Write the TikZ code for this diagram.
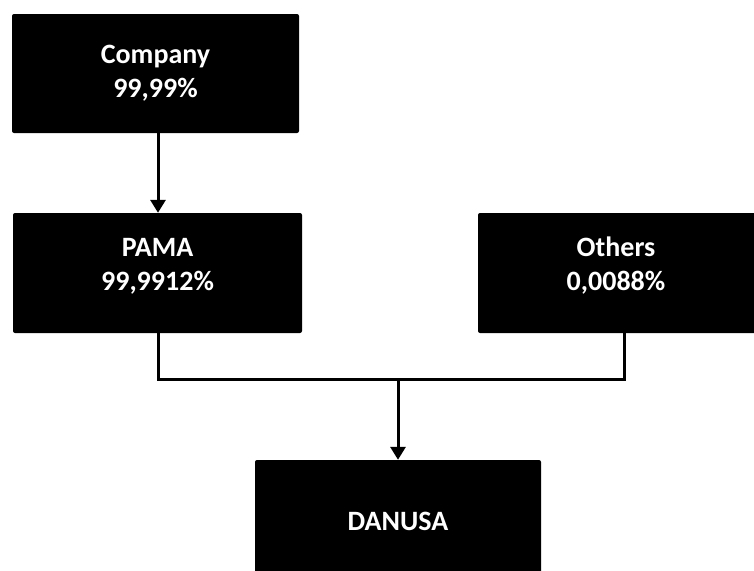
\documentclass[tikz,border=0pt]{standalone}
\usepackage{fontspec}
\setmainfont{Carlito}
\usetikzlibrary{arrows.meta}
\begin{document}
\begin{tikzpicture}[x=1pt,y=-1pt,
  orgbox/.style={fill=black,draw=none,rounded corners=2pt,inner sep=0pt,
    text=white,font=\fontsize{28}{34}\selectfont\bfseries,align=center},
  conn/.style={line width=3pt,draw=black},
  arr/.style={conn,-{Triangle[width=15pt,length=13pt]}}]
\useasboundingbox (0,0) rectangle (754,570);
\node[orgbox,minimum width=287pt,minimum height=119pt] (company) at (155.5,73.5) {Company\\99,99\%};
\node[orgbox,minimum width=289pt,minimum height=120pt] (pama) at (157.5,273) {};
\node[text=white,font=\fontsize{28}{34}\selectfont\bfseries,align=center,inner sep=0pt] (pamaT) at (157.5,266) {PAMA\\99,9912\%};
\node[orgbox,minimum width=280pt,minimum height=120pt] (others) at (618,273) {};
\node[text=white,font=\fontsize{28}{34}\selectfont\bfseries,align=center,inner sep=0pt] (othersT) at (616,266) {Others\\0,0088\%};
\node[orgbox,minimum width=286pt,minimum height=130pt] (danusa) at (398,525) {};
\node[text=white,font=\fontsize{28}{34}\selectfont\bfseries,inner sep=0pt] (danusaT) at (398,521) {DANUSA};
\coordinate (jl) at (158,379);
\coordinate (jr) at (624,379);
\coordinate (jm) at (398,379);
\draw[arr] (company.south -| jl) -- (pama.north -| jl);
\draw[conn] (pama.south -| jl) -- (jl) -- (jr) -- (others.south -| jr);
\draw[arr] (jm) -- (danusa.north);
\end{tikzpicture}
\end{document}
